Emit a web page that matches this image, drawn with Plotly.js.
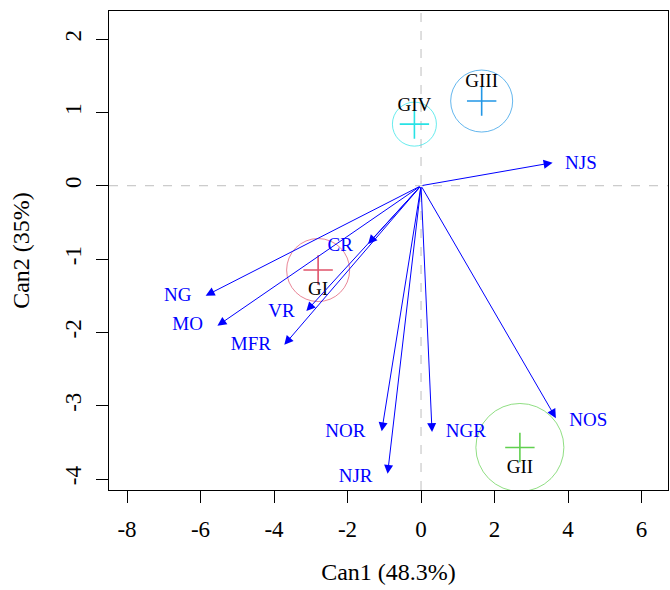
<!DOCTYPE html>
<html>
<head>
<meta charset="utf-8">
<script src="https://cdn.plot.ly/plotly-3.0.1.min.js"></script>
<style>html,body{margin:0;padding:0;background:#fff;}#chart{width:670px;height:590px;}</style>
</head>
<body>
<div id="chart"></div>
<script>
// Variable vectors (arrow tips) and their label positions
const varNames = ["NJS", "NG", "MO", "CR", "VR", "MFR", "NOR", "NJR", "NGR", "NOS"];
const varX     = [3.58, -5.86, -5.54, -1.44, -3.12, -3.72, -1.07, -0.91, 0.30, 3.67];
const varY     = [0.314, -1.50, -1.91, -0.795, -1.71, -2.17, -3.35, -3.93, -3.36, -3.17];
const varLabX  = [4.35, -6.62, -6.35, -2.20, -3.80, -4.63, -2.06, -1.78, 1.22, 4.55];
const varLabY  = [0.29, -1.51, -1.90, -0.82, -1.73, -2.17, -3.36, -3.97, -3.36, -3.21];

// Group centroids
const groupNames = ["GI", "GII", "GIII", "GIV"];
const groupX     = [-2.80, 2.69, 1.65, -0.18];
const groupY     = [-1.15, -3.57, 1.155, 0.84];
const groupLabY  = [-1.42, -3.85, 1.41, 1.09];

// Tick values
const xTicks = [-8, -6, -4, -2, 0, 2, 4, 6];
const yTicks = [-4, -3, -2, -1, 0, 1, 2];

// Styles
const groupColors = ["#DF536B", "#61D04F", "#2297E6", "#28E2E5"];
const circleDiam  = [63, 88, 62, 44];
const FONT = "Liberation Serif";

const traces = [];
traces.push({
  type: "scatter", mode: "markers", x: groupX, y: groupY, hoverinfo: "skip",
  marker: {symbol: "circle-open", size: circleDiam, color: groupColors, line: {width: 1, color: groupColors}},
  showlegend: false
});
traces.push({
  type: "scatter", mode: "markers", x: groupX, y: groupY, hoverinfo: "skip",
  marker: {symbol: "cross-thin-open", size: 21, color: groupColors, line: {width: 1.6, color: groupColors}},
  showlegend: false
});
traces.push({
  type: "scatter", mode: "text", x: groupX, y: groupLabY, text: groupNames,
  textfont: {family: FONT, size: 19, color: "#000000"}, hoverinfo: "skip", showlegend: false
});
traces.push({
  type: "scatter", mode: "text", x: varLabX, y: varLabY, text: varNames,
  textfont: {family: FONT, size: 19, color: "#0000FF"}, hoverinfo: "skip", showlegend: false
});

const annotations = varNames.map((n, i) => ({
  x: varX[i], y: varY[i], ax: 0, ay: 0, xref: "x", yref: "y", axref: "x", ayref: "y",
  text: "", showarrow: true, arrowhead: 2, arrowsize: 1.8, arrowwidth: 1, arrowcolor: "#0000FF",
  standoff: 0, startstandoff: 0
}));

const layout = {
  width: 670, height: 590,
  margin: {l: 109, r: 2, t: 11, b: 100},
  paper_bgcolor: "#ffffff", plot_bgcolor: "#ffffff",
  font: {family: FONT, color: "#000000"},
  showlegend: false,
  xaxis: {
    range: [-8.49, 6.72], tickmode: "array", tickvals: xTicks, ticktext: xTicks.map(String),
    showgrid: false, zeroline: false, showline: true, mirror: true, linecolor: "#000000", linewidth: 1,
    ticks: "outside", ticklen: 12, tickcolor: "#000000", tickwidth: 1,
    tickfont: {family: FONT, size: 23, color: "#000000"}, ticklabelstandoff: 6,
    title: {text: "Can1 (48.3%)", font: {family: FONT, size: 24, color: "#000000"}, standoff: 22},
    automargin: false
  },
  yaxis: {
    range: [-4.15, 2.383], tickmode: "array", tickvals: yTicks, ticktext: yTicks.map(String),
    showgrid: false, zeroline: false, showline: true, mirror: true, linecolor: "#000000", linewidth: 1,
    ticks: "outside", ticklen: 12, tickcolor: "#000000", tickwidth: 1, tickangle: -90,
    tickfont: {family: FONT, size: 23, color: "#000000"}, ticklabelstandoff: 6,
    title: {text: "Can2 (35%)", font: {family: FONT, size: 24, color: "#000000"}, standoff: 24},
    automargin: false
  },
  shapes: [
    {type: "line", xref: "x", yref: "paper", x0: 0, x1: 0, y0: 0, y1: 1, line: {color: "#BEBEBE", width: 1, dash: "dash"}, layer: "below"},
    {type: "line", xref: "paper", yref: "y", x0: 0, x1: 1, y0: 0, y1: 0, line: {color: "#BEBEBE", width: 1, dash: "dash"}, layer: "below"}
  ],
  annotations: annotations
};

Plotly.newPlot("chart", traces, layout, {displayModeBar: false, staticPlot: true});
</script>
</body>
</html>
